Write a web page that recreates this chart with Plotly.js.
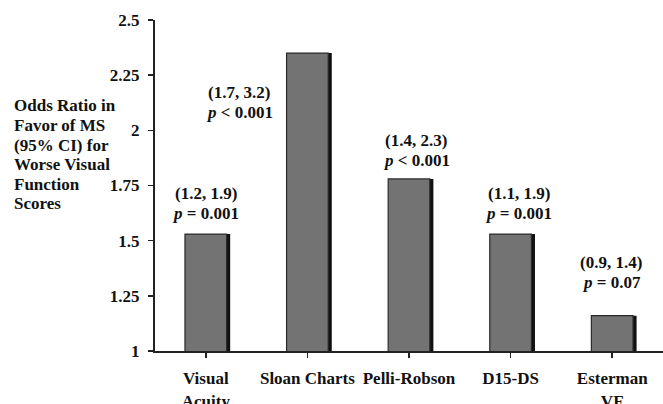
<!DOCTYPE html>
<html>
<head>
<meta charset="utf-8">
<script src="https://cdn.plot.ly/plotly-3.0.1.min.js"></script>
<style>html,body{margin:0;padding:0;background:#fff;}#chart{width:663px;height:404px;}</style>
</head>
<body>
<div id="chart"></div>
<script>
// Data
var categories = ['Visual<br>Acuity', 'Sloan Charts', 'Pelli-Robson', 'D15-DS', 'Esterman<br>VF'];
var oddsRatios = [1.53, 2.35, 1.78, 1.53, 1.16];
var ciLabels = ['(1.2, 1.9)', '(1.7, 3.2)', '(1.4, 2.3)', '(1.1, 1.9)', '(0.9, 1.4)'];
var pLabels = ['= 0.001', '< 0.001', '< 0.001', '= 0.001', '= 0.07'];
var yTickVals = [1, 1.25, 1.5, 1.75, 2, 2.25, 2.5];
var yTickText = ['1', '1.25', '1.5', '1.75', '2', '2.25', '2.5'];
var yTitleLines = ['Odds Ratio in', 'Favor of MS', '(95% CI) for', 'Worse Visual', 'Function', 'Scores'];

var FONT = 'Times New Roman, Liberation Serif, serif';
var idx = categories.map(function (c, i) { return i; });

var barW = 0.41;
var shadow = {
  type: 'bar', x: idx, y: oddsRatios,
  width: barW, offset: -barW / 2 + 0.035,
  marker: { color: '#111', line: { width: 0 } },
  hoverinfo: 'skip', showlegend: false
};
var bars = {
  type: 'bar', x: idx, y: oddsRatios,
  width: barW, offset: -barW / 2,
  marker: { color: '#737373', line: { color: '#2a2a2a', width: 1.2 } },
  showlegend: false
};

// label placement (positions only)
var labelX = [0, 0.33, 2.07, 3.08, 3.99];
var labelY = [1.67, 2.124, 1.908, 1.67, 1.358];

var annotations = [];
idx.forEach(function (i) {
  annotations.push({
    x: labelX[i], y: labelY[i], xref: 'x', yref: 'y', yshift: 10,
    text: '<b>' + ciLabels[i] + '</b>', showarrow: false,
    font: { family: FONT, size: 17, color: '#111' }
  });
  annotations.push({
    x: labelX[i], y: labelY[i], xref: 'x', yref: 'y', yshift: -10,
    text: '<b><i>p</i> ' + pLabels[i] + '</b>', showarrow: false,
    font: { family: FONT, size: 17, color: '#111' }
  });
});
yTitleLines.forEach(function (t, k) {
  annotations.push({
    x: 12, y: 106 + k * 19.5, xref: 'paper', yref: 'paper',
    text: '<b>' + t + '</b>', showarrow: false, xanchor: 'left', yanchor: 'middle',
    font: { family: FONT, size: 17, color: '#111' }
  });
});
// convert pixel positions of y-title lines to paper coords
annotations.forEach(function (a) {
  if (a.xref === 'paper') {
    a.x = (a.x - 155) / 508;
    a.y = (351 - a.y) / 331;
  }
});

var layout = {
  width: 663, height: 404,
  margin: { l: 155, r: 0, t: 20, b: 53 },
  paper_bgcolor: '#fff', plot_bgcolor: '#fff',
  barmode: 'overlay',
  font: { family: FONT, size: 17, color: '#111' },
  xaxis: {
    range: [-0.5, 4.5], tickvals: idx, ticktext: categories,
    tickson: 'boundaries', ticks: 'outside', ticklen: 5, tickwidth: 1.5, tickcolor: '#222',
    showline: true, linecolor: '#222', linewidth: 2, showgrid: false, zeroline: false,
    tickfont: { family: FONT, size: 17, color: '#111', weight: 'bold' },
    ticklabelstandoff: 6, fixedrange: true
  },
  yaxis: {
    range: [1, 2.5], tickvals: yTickVals, ticktext: yTickText,
    ticks: 'outside', ticklen: 5, tickwidth: 1.5, tickcolor: '#222',
    showline: true, linecolor: '#222', linewidth: 2, showgrid: false, zeroline: false,
    tickfont: { family: FONT, size: 17, color: '#111', weight: 'bold' },
    ticklabelstandoff: 5, fixedrange: true
  },
  annotations: annotations,
  showlegend: false
};

Plotly.newPlot('chart', [shadow, bars], layout, { displayModeBar: false, staticPlot: true });
</script>
</body>
</html>
